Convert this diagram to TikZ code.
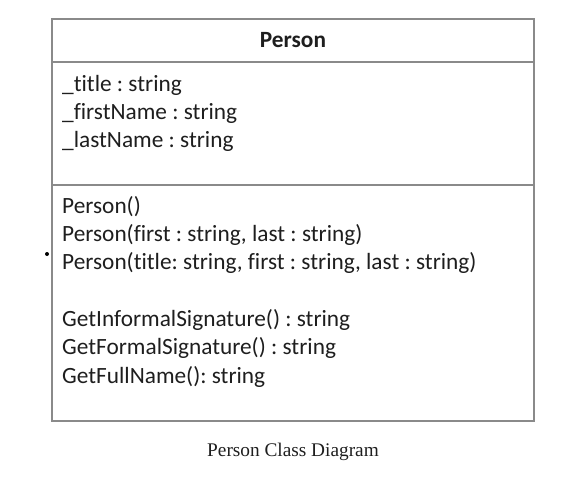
\documentclass[tikz,border=0pt]{standalone}
\usepackage{fontspec}
\setmainfont{Carlito}[Ligatures=NoCommon]
\newfontfamily\capfont{Liberation Serif}
\usepackage{xcolor}
\frenchspacing
\definecolor{boxline}{HTML}{8A8A8A}
\definecolor{ink}{HTML}{1E1E1E}
\def\member#1#2#3{
	\node[anchor=base west,inner sep=0pt] (#1) at (62,#2) {#3};}

\begin{document}
\begin{tikzpicture}[x=1pt,y=-1pt,font=\fontsize{23.3}{28}\selectfont,text=ink]
	\useasboundingbox (0,0) rectangle (585,482);
	%class box and compartments
	\draw[draw=boxline,line width=1.6pt] (52,19) rectangle (534,421);
	\draw[draw=boxline,line width=1.6pt] (52,62) -- (534,62);
	\draw[draw=boxline,line width=1.6pt] (52,185) -- (534,185);
	\node[anchor=base,inner sep=0pt,font=\fontsize{23.3}{28}\selectfont\bfseries] (name) at (293,47) {Person};
	%attributes
	\member{title}{91}{\_title : string}
	\member{first}{119}{\_firstName : string}
	\member{last}{147}{\_lastName : string}
	%methods
	\member{ctora}{213}{Person()}
	\member{ctorb}{241}{Person(first : string, last : string)}
	\member{ctorc}{269}{Person(title: string, first : string, last : string)}
	\member{informal}{326}{GetInformalSignature() : string}
	\member{formal}{354}{GetFormalSignature() : string}
	\member{full}{383}{GetFullName(): string}
	\fill[black] (47,254) circle [radius=2];
	\node[anchor=base,inner sep=0pt,font=\capfont\fontsize{19.3}{23}\selectfont] (caption) at (293,456) {Person Class Diagram};
\end{tikzpicture}
\end{document}
